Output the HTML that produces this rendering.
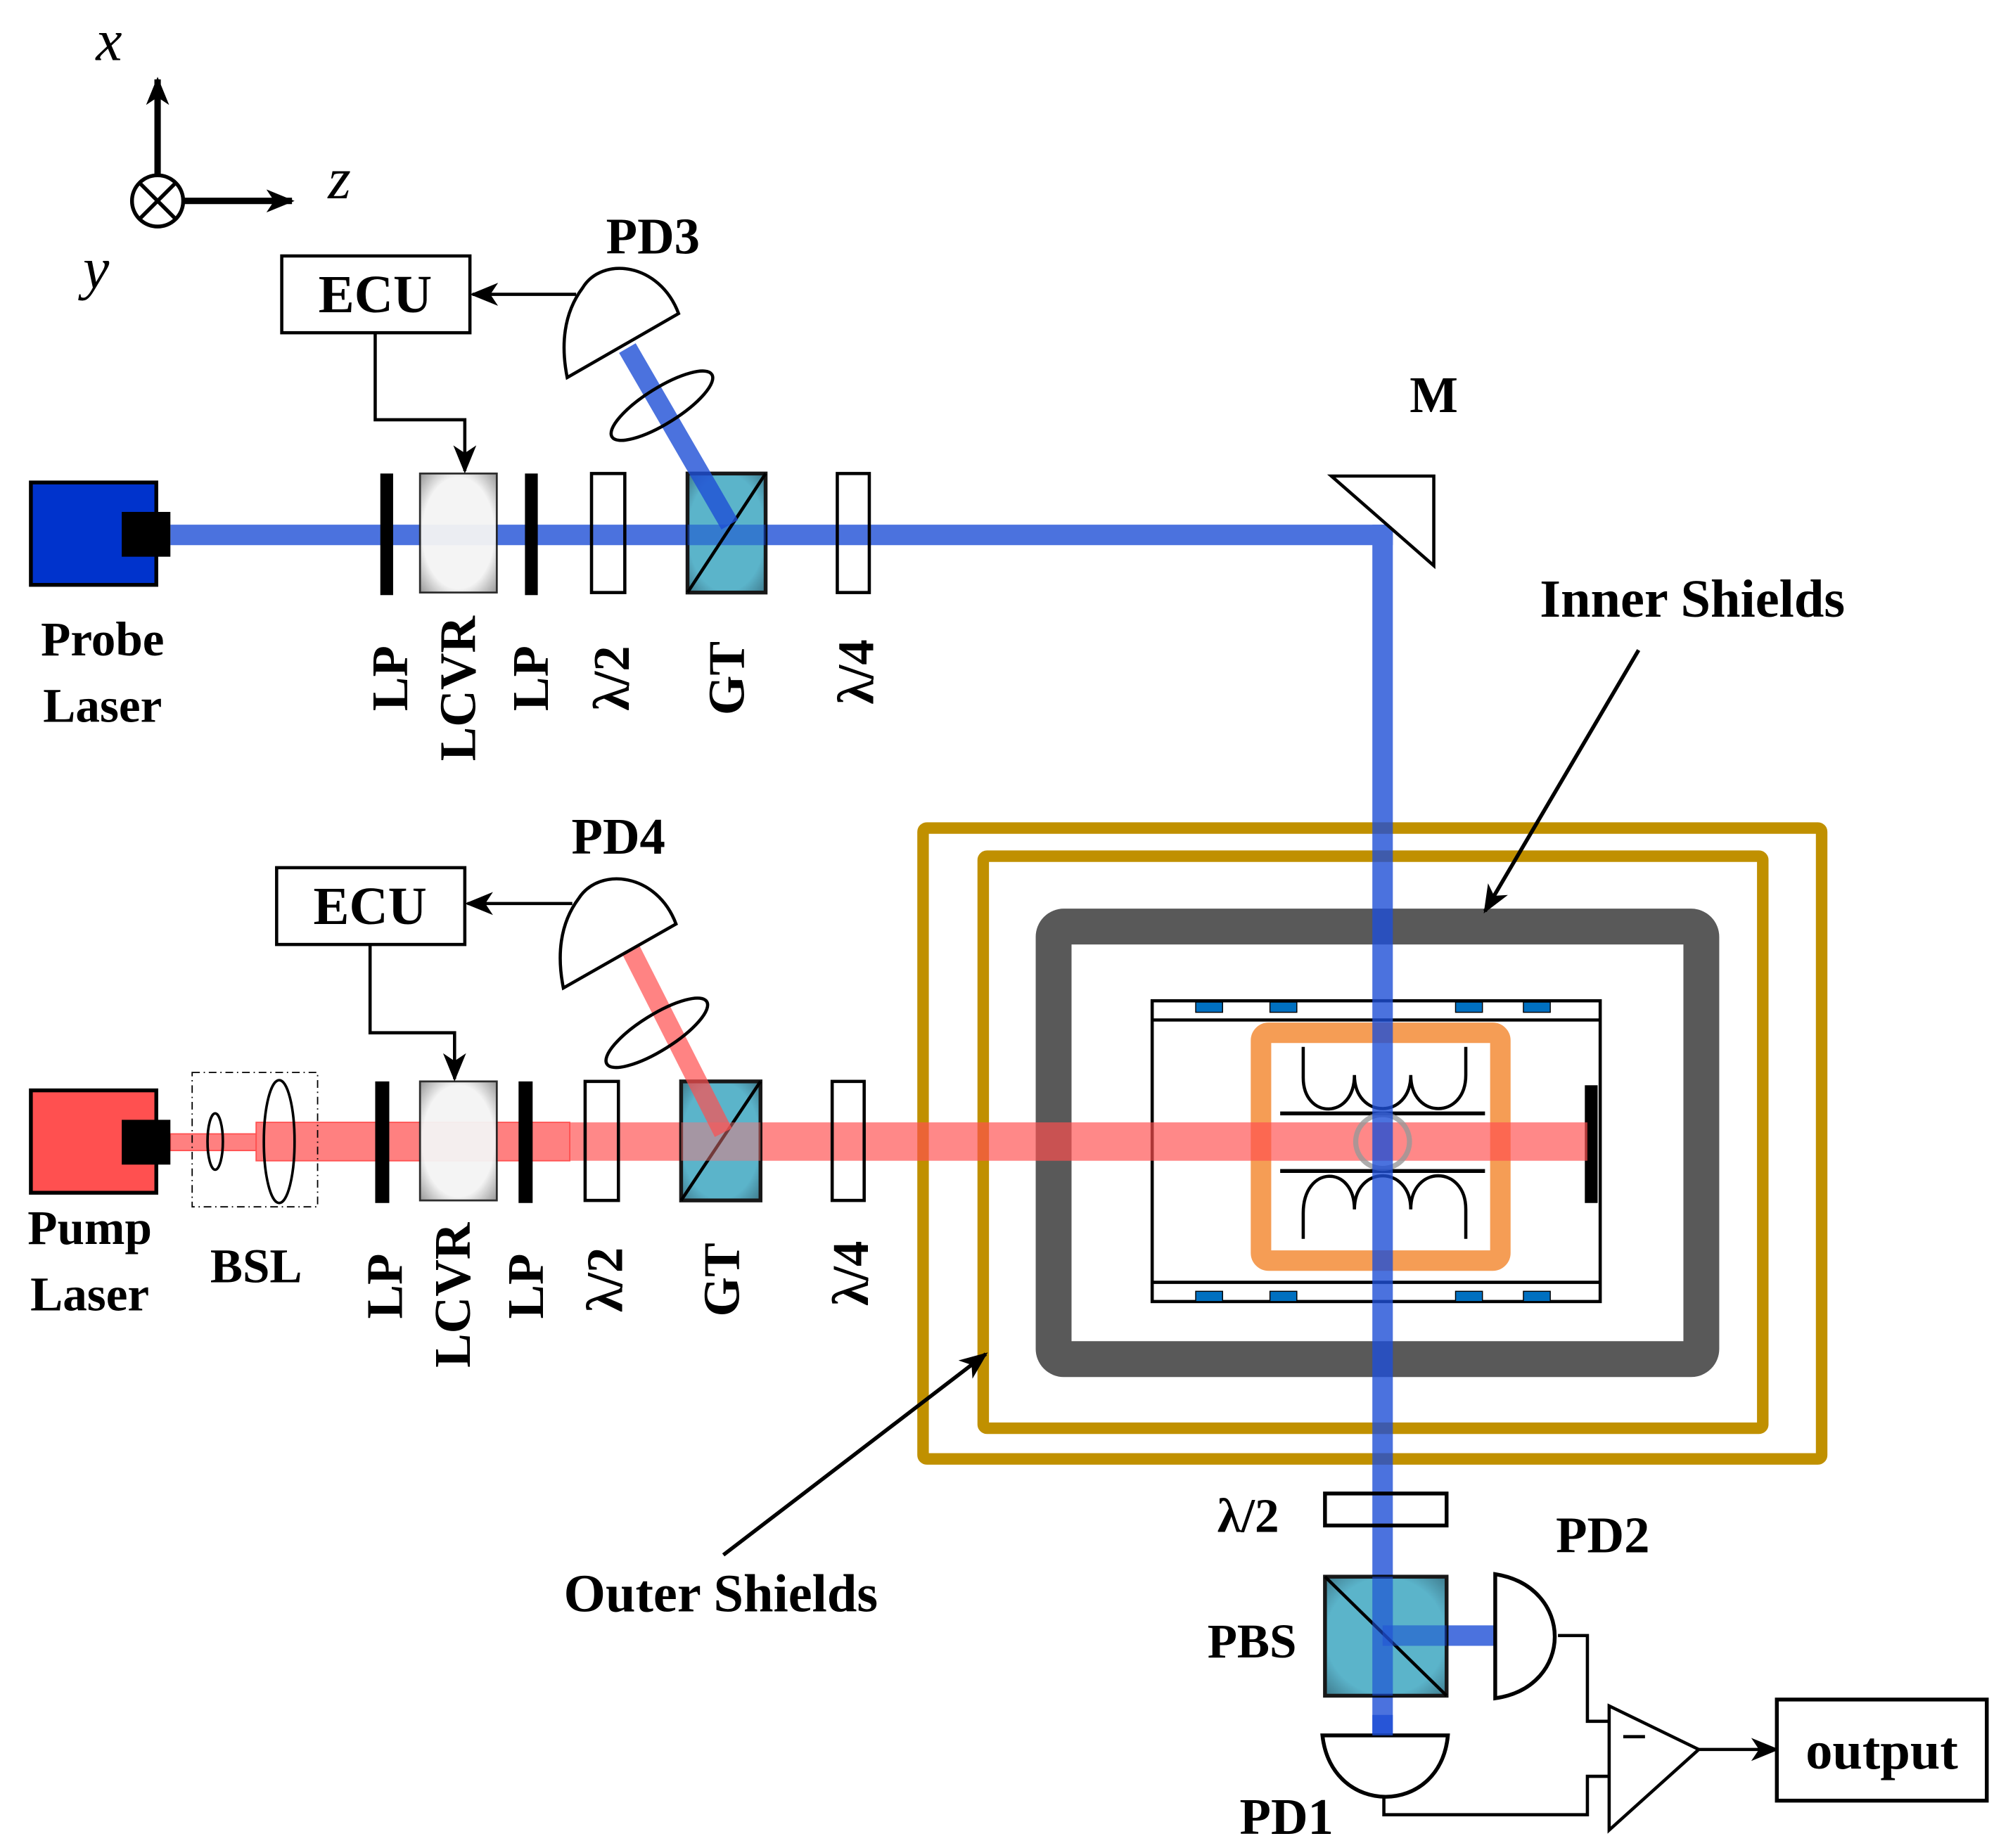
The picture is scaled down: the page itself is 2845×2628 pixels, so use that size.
<!DOCTYPE html>
<html><head><meta charset="utf-8"><style>
html,body{margin:0;padding:0;background:#fff}
svg{display:block}
text{font-family:"Liberation Serif",serif;font-weight:bold;fill:#000}
</style></head><body>
<svg width="2845" height="2628" viewBox="0 0 1563 1444" xmlns="http://www.w3.org/2000/svg">
<defs>
<radialGradient id="lc" cx="50%" cy="50%" r="72%"><stop offset="65%" stop-color="#f4f4f4"/><stop offset="100%" stop-color="#8a8a8a"/></radialGradient>
<radialGradient id="cb" cx="50%" cy="50%" r="70%"><stop offset="70%" stop-color="#4aacc5"/><stop offset="100%" stop-color="#2a6c80"/></radialGradient>
<marker id="ah2" markerWidth="22" markerHeight="22" refX="20" refY="11" orient="auto" markerUnits="userSpaceOnUse" viewBox="0 0 22 22"><path d="M0,2 L22,11 L0,20 L6,11 Z" fill="#000"/></marker>
</defs>

<line x1="123" y1="138" x2="123" y2="62" stroke="#000" stroke-width="5" marker-end="url(#ah2)"/>
<line x1="143" y1="157" x2="228" y2="157" stroke="#000" stroke-width="5" marker-end="url(#ah2)"/>
<circle cx="123" cy="157" r="20" fill="#fff" stroke="#000" stroke-width="3"/>
<line x1="109" y1="143" x2="137" y2="171" stroke="#000" stroke-width="3"/>
<line x1="137" y1="143" x2="109" y2="171" stroke="#000" stroke-width="3"/>
<text x="85" y="47" font-size="46" font-style="italic" text-anchor="middle" style="font-weight:normal">x</text>
<text x="265" y="155" font-size="46" font-style="italic" text-anchor="middle" style="font-weight:normal">z</text>
<text x="75" y="225" font-size="46" font-style="italic" text-anchor="middle" style="font-weight:normal">y</text>

<rect x="721" y="647" width="702" height="493" fill="none" stroke="#c09000" stroke-width="9" rx="3"/>
<rect x="768" y="669" width="609" height="447" fill="none" stroke="#c09000" stroke-width="9" rx="3"/>
<rect x="823" y="724" width="506" height="338" fill="none" stroke="#595959" stroke-width="28" rx="8"/>
<rect x="900" y="782" width="350" height="235" fill="none" stroke="#000" stroke-width="2.5"/>
<line x1="900" y1="797" x2="1250" y2="797" stroke="#000" stroke-width="2.5"/>
<line x1="900" y1="1002" x2="1250" y2="1002" stroke="#000" stroke-width="2.5"/>
<g fill="#0070c0" stroke="#000" stroke-width="0.8">
<rect x="934" y="783" width="21" height="8"/><rect x="992" y="783" width="21" height="8"/><rect x="1137" y="783" width="21" height="8"/><rect x="1190" y="783" width="21" height="8"/>
<rect x="934" y="1009" width="21" height="8"/><rect x="992" y="1009" width="21" height="8"/><rect x="1137" y="1009" width="21" height="8"/><rect x="1190" y="1009" width="21" height="8"/>
</g>
<rect x="985" y="807" width="187" height="178" fill="none" stroke="#f59d55" stroke-width="16" rx="6"/>
<line x1="1000" y1="870" x2="1160" y2="870" stroke="#000" stroke-width="3"/>
<line x1="1000" y1="915" x2="1160" y2="915" stroke="#000" stroke-width="3"/>
<path d="M1018,818 V842 C1018,875 1058,875 1058,840 C1058,875 1102,875 1102,840 C1102,875 1145,875 1145,840 V818" fill="none" stroke="#000" stroke-width="2.5"/>
<path d="M1018,968 V948 C1018,910 1058,910 1058,945 C1058,910 1102,910 1102,945 C1102,910 1145,910 1145,945 V968" fill="none" stroke="#000" stroke-width="2.5"/>
<rect x="1238" y="848" width="10" height="92" fill="#000"/>

<rect x="133" y="886" width="67" height="13" fill="#ff8080" stroke="#ff5050" stroke-width="1"/>
<rect x="200" y="877" width="245" height="30" fill="#ff8080" stroke="#ff5050" stroke-width="1"/>
<rect x="445" y="877" width="795" height="30" fill="#ff5050" opacity="0.68"/>
<circle cx="1080" cy="892" r="21" fill="none" stroke="#999" stroke-width="4" opacity="0.8"/>

<g opacity="0.8">
<line x1="133" y1="418" x2="1088" y2="418" stroke="#1f4fd6" stroke-width="16"/>
<line x1="1080" y1="410" x2="1080" y2="1356" stroke="#1f4fd6" stroke-width="16"/>
<line x1="1080" y1="1278" x2="1168" y2="1278" stroke="#1f4fd6" stroke-width="16"/>
</g>

<rect x="24" y="377" width="98" height="80" fill="#0033cc" stroke="#000" stroke-width="3"/>
<rect x="95" y="400" width="38" height="35" fill="#000"/>
<text x="80" y="512" font-size="38" text-anchor="middle">Probe</text>
<text x="80" y="564" font-size="38" text-anchor="middle">Laser</text>

<rect x="297" y="370" width="10" height="95" fill="#000"/>
<rect x="328" y="370" width="60" height="93" fill="url(#lc)" stroke="#222" stroke-width="1.5" opacity="0.95"/>
<rect x="410" y="370" width="10" height="95" fill="#000"/>
<rect x="462" y="370" width="26" height="93" fill="none" stroke="#000" stroke-width="2.5"/>
<rect x="537" y="370" width="61" height="93" fill="url(#cb)" stroke="#000" stroke-width="3" opacity="0.9"/>
<line x1="537" y1="418" x2="598" y2="418" stroke="#1f4fd6" stroke-width="16" opacity="0.5"/>
<line x1="537" y1="463" x2="598" y2="370" stroke="#000" stroke-width="2.5"/>
<rect x="654" y="370" width="25" height="93" fill="none" stroke="#000" stroke-width="2.5"/>
<line x1="570" y1="410" x2="490" y2="272" stroke="#1f4fd6" stroke-width="15" opacity="0.8"/>
<ellipse cx="517" cy="317" rx="46" ry="14" transform="rotate(-32 517 317)" fill="none" stroke="#000" stroke-width="2.5"/>
<path d="M443,295 L530,245 C515,205 470,200 455,225 C440,245 438,270 443,295 Z" fill="#fff" stroke="#000" stroke-width="2.5"/>
<text x="510" y="198" font-size="40" text-anchor="middle">PD3</text>
<rect x="220" y="200" width="147" height="60" fill="#fff" stroke="#000" stroke-width="2.5"/>
<text x="293" y="244" font-size="42" text-anchor="middle">ECU</text>
<line x1="450" y1="230" x2="369" y2="230" stroke="#000" stroke-width="2.5" marker-end="url(#ah2)"/>
<polyline points="293,260 293,328 363,328 363,368" fill="none" stroke="#000" stroke-width="2.5" marker-end="url(#ah2)"/>
<polygon points="1040,372 1120,372 1120,442" fill="#fff" stroke="#000" stroke-width="2.5"/>
<text x="1120" y="322" font-size="40" text-anchor="middle">M</text>

<g font-size="40">
<text transform="translate(318,530) rotate(-90)" text-anchor="middle">LP</text>
<text transform="translate(371,538) rotate(-90)" text-anchor="middle">LCVR</text>
<text transform="translate(428,530) rotate(-90)" text-anchor="middle">LP</text>
<text transform="translate(491,530) rotate(-90)" text-anchor="middle">λ/2</text>
<text transform="translate(581,530) rotate(-90)" text-anchor="middle">GT</text>
<text transform="translate(682,525) rotate(-90)" text-anchor="middle">λ/4</text>
<text transform="translate(314,1005) rotate(-90)" text-anchor="middle">LP</text>
<text transform="translate(367,1012) rotate(-90)" text-anchor="middle">LCVR</text>
<text transform="translate(424,1005) rotate(-90)" text-anchor="middle">LP</text>
<text transform="translate(486,1000) rotate(-90)" text-anchor="middle">λ/2</text>
<text transform="translate(577,1000) rotate(-90)" text-anchor="middle">GT</text>
<text transform="translate(678,995) rotate(-90)" text-anchor="middle">λ/4</text>
</g>

<rect x="24" y="852" width="98" height="80" fill="#ff5050" stroke="#000" stroke-width="3"/>
<rect x="95" y="875" width="38" height="35" fill="#000"/>
<text x="70" y="972" font-size="38" text-anchor="middle">Pump</text>
<text x="70" y="1024" font-size="38" text-anchor="middle">Laser</text>
<rect x="150" y="838" width="98" height="105" fill="none" stroke="#000" stroke-width="1" stroke-dasharray="6,3,1,3"/>
<ellipse cx="168" cy="892" rx="6" ry="22" fill="none" stroke="#000" stroke-width="2"/>
<ellipse cx="218" cy="892" rx="12" ry="48" fill="none" stroke="#000" stroke-width="2"/>
<text x="200" y="1002" font-size="38" text-anchor="middle">BSL</text>

<rect x="293" y="845" width="11" height="95" fill="#000"/>
<rect x="328" y="845" width="60" height="93" fill="url(#lc)" stroke="#222" stroke-width="1.5" opacity="0.95"/>
<rect x="405" y="845" width="11" height="95" fill="#000"/>
<rect x="457" y="845" width="26" height="93" fill="none" stroke="#000" stroke-width="2.5"/>
<rect x="532" y="845" width="62" height="93" fill="url(#cb)" stroke="#000" stroke-width="3" opacity="0.9"/>
<line x1="532" y1="938" x2="594" y2="845" stroke="#000" stroke-width="2.5"/>
<rect x="650" y="845" width="25" height="93" fill="none" stroke="#000" stroke-width="2.5"/>
<rect x="532" y="877" width="62" height="30" fill="#ff8080" opacity="0.45"/>
<line x1="565" y1="885" x2="485" y2="727" stroke="#ff5050" stroke-width="15" opacity="0.7"/>
<ellipse cx="513" cy="807" rx="46" ry="14" transform="rotate(-32 513 807)" fill="none" stroke="#000" stroke-width="2.5"/>
<path d="M440,772 L528,722 C513,682 468,677 452,702 C437,722 435,747 440,772 Z" fill="#fff" stroke="#000" stroke-width="2.5"/>
<text x="483" y="667" font-size="40" text-anchor="middle">PD4</text>
<rect x="216" y="678" width="147" height="60" fill="#fff" stroke="#000" stroke-width="2.5"/>
<text x="289" y="722" font-size="42" text-anchor="middle">ECU</text>
<line x1="447" y1="706" x2="365" y2="706" stroke="#000" stroke-width="2.5" marker-end="url(#ah2)"/>
<polyline points="289,738 289,807 355,807 355,843" fill="none" stroke="#000" stroke-width="2.5" marker-end="url(#ah2)"/>

<text x="1322" y="482" font-size="42" text-anchor="middle">Inner Shields</text>
<line x1="1280" y1="508" x2="1160" y2="712" stroke="#000" stroke-width="3" marker-end="url(#ah2)"/>
<text x="563" y="1259" font-size="42" text-anchor="middle">Outer Shields</text>
<line x1="565" y1="1215" x2="770" y2="1058" stroke="#000" stroke-width="3" marker-end="url(#ah2)"/>

<rect x="1035" y="1167" width="95" height="25" fill="none" stroke="#000" stroke-width="3"/>
<text x="975" y="1197" font-size="38" text-anchor="middle">λ/2</text>
<rect x="1035" y="1232" width="95" height="93" fill="url(#cb)" stroke="#000" stroke-width="3" opacity="0.9"/>
<line x1="1035" y1="1232" x2="1130" y2="1325" stroke="#000" stroke-width="2.5"/>
<line x1="1080" y1="1232" x2="1080" y2="1325" stroke="#1f4fd6" stroke-width="16" opacity="0.6"/>
<line x1="1080" y1="1278" x2="1130" y2="1278" stroke="#1f4fd6" stroke-width="16" opacity="0.5"/>
<text x="978" y="1295" font-size="38" text-anchor="middle">PBS</text>
<path d="M1168,1230 C1230,1240 1230,1318 1168,1327 Z" fill="#fff" stroke="#000" stroke-width="3"/>
<text x="1252" y="1213" font-size="40" text-anchor="middle">PD2</text>
<path d="M1033,1356 H1131 C1125,1420 1040,1420 1033,1356 Z" fill="#fff" stroke="#000" stroke-width="3"/>
<line x1="1080" y1="1340" x2="1080" y2="1356" stroke="#1f4fd6" stroke-width="16" opacity="0.8"/>
<text x="1005" y="1433" font-size="40" text-anchor="middle">PD1</text>
<polyline points="1217,1278 1240,1278 1240,1345 1257,1345" fill="none" stroke="#000" stroke-width="2.5"/>
<polyline points="1081,1404 1081,1418 1240,1418 1240,1388 1257,1388" fill="none" stroke="#000" stroke-width="2.5"/>
<polygon points="1257,1333 1257,1430 1327,1367" fill="#fff" stroke="#000" stroke-width="2.5"/>
<line x1="1268" y1="1357" x2="1285" y2="1357" stroke="#000" stroke-width="2.5"/>
<line x1="1327" y1="1367" x2="1388" y2="1367" stroke="#000" stroke-width="2.5" marker-end="url(#ah2)"/>
<rect x="1388" y="1328" width="164" height="79" fill="#fff" stroke="#000" stroke-width="3"/>
<text x="1470" y="1382" font-size="42" text-anchor="middle">output</text>
</svg>
</body></html>
